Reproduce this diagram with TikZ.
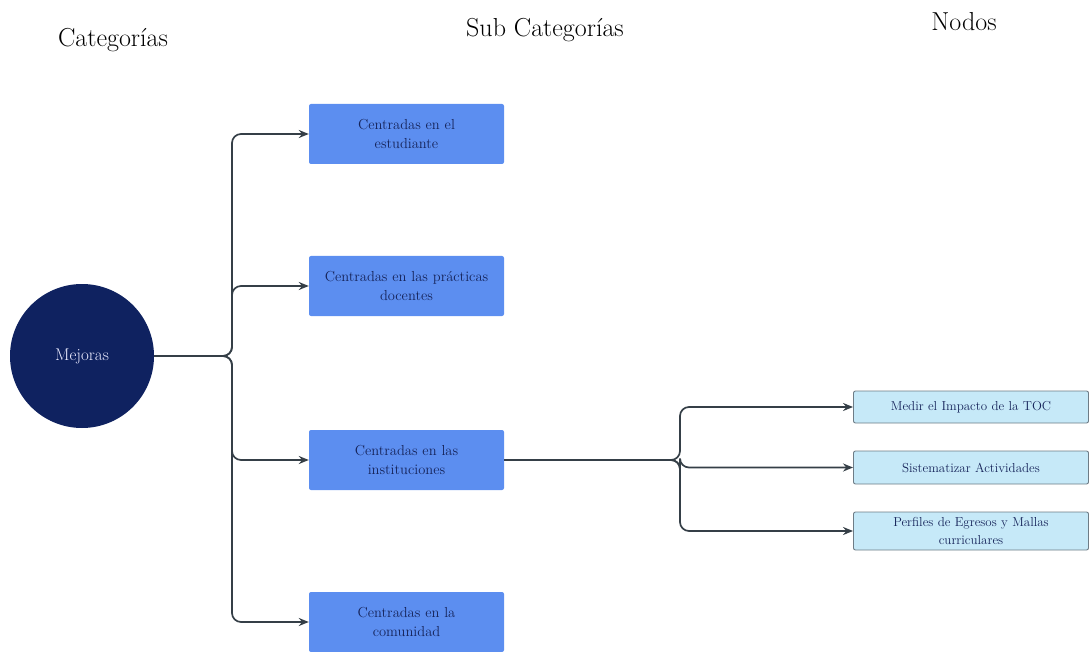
\documentclass[tikz,border=0pt]{standalone}
\usetikzlibrary{arrows.meta}
\definecolor{navy}{HTML}{0F2260}
\definecolor{subblue}{HTML}{5C8EF0}
\definecolor{nodeblue}{HTML}{C6E9F8}
\definecolor{nodeedge}{HTML}{6E7C86}
\definecolor{linkgray}{HTML}{353F47}
\definecolor{boxtext}{HTML}{16245A}
\begin{document}
\begin{tikzpicture}[x=1pt,y=-1pt,
  title/.style={font=\fontsize{26}{30}\selectfont, text=black},
  root/.style={circle, fill=navy, minimum size=144pt, inner sep=0pt,
    text=white!92!blue, font=\fontsize{17}{20}\selectfont},
  subbox/.style={rectangle, rounded corners=2pt, fill=subblue, minimum width=195pt,
    minimum height=60pt, text width=190pt, align=center, inner sep=0pt,
    text=boxtext, font=\fontsize{14.5}{19}\selectfont},
  leafbox/.style={rectangle, rounded corners=2pt, fill=nodeblue, draw=nodeedge,
    line width=0.9pt, minimum width=235pt, text width=230pt, align=center,
    inner sep=0pt, text=boxtext, font=\fontsize{13}{18}\selectfont},
  link/.style={draw=linkgray, line width=1.7pt, rounded corners=9pt,
    -{Stealth[length=10pt,width=8pt]}}
]
\useasboundingbox (0,0) rectangle (1089,652);

% column headings
\node[title] (hcat) at (113,40) {Categorías};
\node[title] (hsub) at (545,30) {Sub Categorías};
\node[title] (hnod) at (964,22) {Nodos};

% root category
\node[root] (mej) at (82,356) {Mejoras};

% sub categories
\node[subbox] (s1) at (406.5,134) {Centradas en el\\estudiante};
\node[subbox] (s2) at (406.5,286) {Centradas en las prácticas\\docentes};
\node[subbox] (s3) at (406.5,460) {Centradas en las\\instituciones};
\node[subbox] (s4) at (406.5,622) {Centradas en la\\comunidad};

% leaf nodes
\node[leafbox, minimum height=32pt] (n1) at (971,407) {Medir el Impacto de la TOC};
\node[leafbox, minimum height=33pt] (n2) at (971,467.5) {Sistematizar Actividades};
\node[leafbox, minimum height=38pt] (n3) at (971,531) {Perfiles de Egresos y Mallas\\curriculares};

% branching points
\coordinate (j1) at (232,356);
\coordinate (j2) at (680,460);

% connectors from the root
\foreach \t in {s1,s2,s3,s4}
  \draw[link] (mej.east) -- (j1) |- (\t.west);

% connectors from the institutions box
\foreach \t in {n1,n2,n3}
  \draw[link] (s3.east) -- (j2) |- (\t.west);
\end{tikzpicture}
\end{document}
